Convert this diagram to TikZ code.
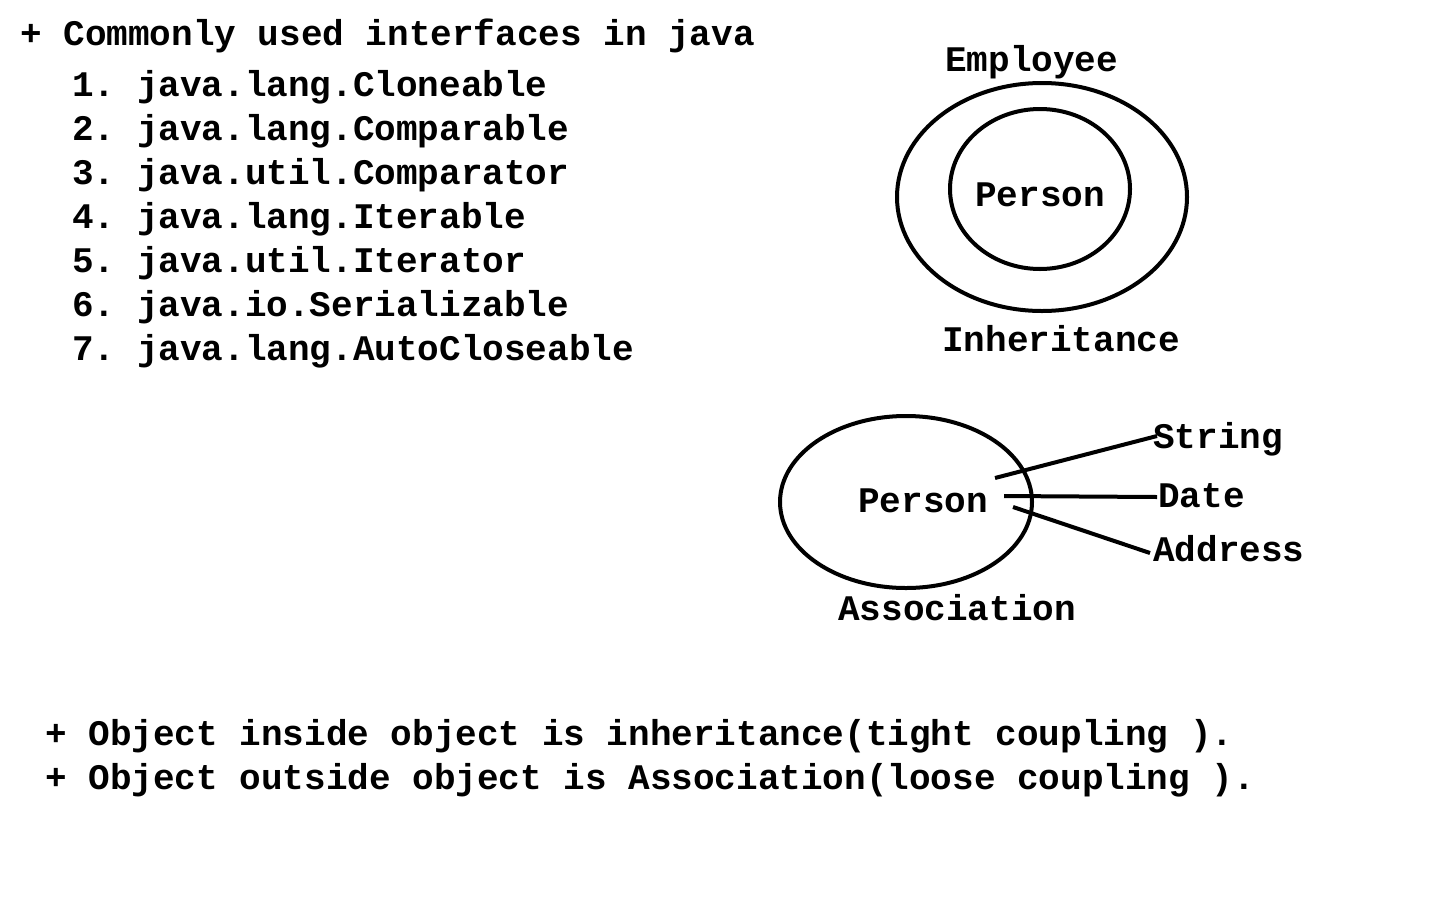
\documentclass[tikz,border=0pt]{standalone}
\usepackage{fontspec}
\setmainfont{Liberation Mono}[BoldFont={* Bold}]
\usetikzlibrary{shapes.geometric}
\frenchspacing
\begin{document}
\begin{tikzpicture}[x=1pt,y=-1pt,
  txt/.style={inner sep=0pt,anchor=base west,font=\fontsize{36}{36}\selectfont\bfseries},
  oval/.style={draw,ellipse,line width=4pt,inner sep=0pt},
  link/.style={line width=4pt}]
\useasboundingbox[fill=white] (0,0) rectangle (1440,900);
\node[txt] (title) at (20,45) {+ Commonly used interfaces in java};
\node[txt] (i1) at (72,96) {1. java.lang.Cloneable};
\node[txt] (i2) at (72,140) {2. java.lang.Comparable};
\node[txt] (i3) at (72,184) {3. java.util.Comparator};
\node[txt] (i4) at (72,228) {4. java.lang.Iterable};
\node[txt] (i5) at (72,272) {5. java.util.Iterator};
\node[txt] (i6) at (72,316) {6. java.io.Serializable};
\node[txt] (i7) at (72,360) {7. java.lang.AutoCloseable};
% inheritance
\node[oval,minimum width=290pt,minimum height=228pt] (emp) at (1042,197) {};
\node[oval,minimum width=180pt,minimum height=160pt] (per) at (1040,189) {};
\node[txt] (emplbl) at (945,71) {Employee};
\node[txt] (perlbl) at (975,206) {Person};
\node[txt] (inh) at (942,351) {Inheritance};
% association
\node[oval,minimum width=252pt,minimum height=172pt] (aper) at (906,502) {};
\node[txt] (aperlbl) at (858,512) {Person};
\node[txt] (asso) at (838,620) {Association};
\node[txt] (str) at (1153,448) {String};
\node[txt] (dat) at (1158,507) {Date};
\node[txt] (adr) at (1153,561) {Address};
\coordinate (s0) at (995,478);
\coordinate (s1) at (1157,436);
\coordinate (d0) at (1004,496);
\coordinate (d1) at (1157,497);
\coordinate (a0) at (1013,507);
\coordinate (a1) at (1150,553);
\draw[link] (s0) -- (s1);
\draw[link] (d0) -- (d1);
\draw[link] (a0) -- (a1);
% bottom
\node[txt] (b1) at (45,745) {+ Object inside object is inheritance(tight coupling ).};
\node[txt] (b2) at (45,789) {+ Object outside object is Association(loose coupling ).};
\end{tikzpicture}
\end{document}
